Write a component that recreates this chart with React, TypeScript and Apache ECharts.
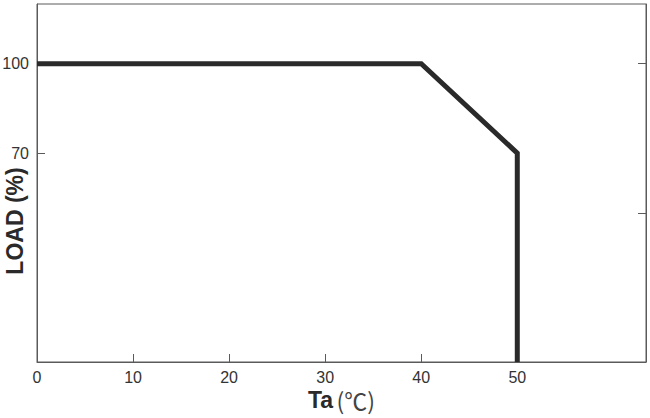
import React, { useEffect, useRef } from "react";
import * as echarts from "echarts";

// Derating curve: ambient temperature (°C) vs load (%)
const tempPoints: number[] = [0, 40, 50, 50];
const loadPoints: number[] = [100, 100, 70, 0];
const xTickValues: number[] = [0, 10, 20, 30, 40, 50];
const yLeftTicks: number[] = [70, 100];
const yRightTicks: number[] = [50, 100];
const xName = "Ta";
const xUnit = "(℃)";
const yName = "LOAD (%)";

export default function App() {
  const ref = useRef<HTMLDivElement>(null);

  useEffect(() => {
    if (!ref.current) return;
    const chart = echarts.init(ref.current, null, { renderer: "svg" });
    const axisColor = "#5a5a5a";
    const labelFont = {
      fontFamily: "Liberation Sans, Arial, sans-serif",
      fontSize: 16,
      color: "#333",
    };
    chart.setOption({
      animation: false,
      backgroundColor: "#fff",
      grid: {
        left: 37,
        right: 4,
        top: 4,
        bottom: 56,
        show: true,
        borderColor: axisColor,
        borderWidth: 1,
        containLabel: false,
        outerBoundsMode: "none",
      },
      graphic: [
        {
          type: "text",
          x: 15,
          y: 221,
          rotation: Math.PI / 2,
          style: {
            text: yName,
            fontFamily: "Liberation Sans, Arial, sans-serif",
            fontWeight: "bold",
            fontSize: 23,
            fill: "#2a2a2a",
            textAlign: "center",
            textVerticalAlign: "middle",
          },
        },
      ],
      xAxis: {
        type: "value",
        min: 0,
        max: 63.4,
        interval: 10,
        name: `{ta|${xName}} {unit|${xUnit}}`,
        nameLocation: "middle",
        nameGap: 26,
        nameMoveOverlap: false,
        nameTextStyle: {
          rich: {
            ta: {
              fontFamily: "Liberation Sans, Arial, sans-serif",
              fontWeight: "bold",
              fontSize: 23,
              color: "#2a2a2a",
            },
            unit: {
              fontFamily: "Noto Sans CJK SC, sans-serif",
              fontWeight: "normal",
              fontSize: 23,
              color: "#444",
            },
          },
        },
        axisLine: { show: true, lineStyle: { color: axisColor, width: 1 } },
        axisTick: {
          show: true,
          inside: true,
          length: 8,
          customValues: xTickValues.filter((v) => v > 0),
          lineStyle: { color: axisColor },
        },
        axisLabel: { ...labelFont, margin: 7, customValues: xTickValues },
        splitLine: { show: false },
      },
      yAxis: [
        {
          type: "value",
          min: 0,
          max: 120,
          interval: 10,
          position: "left",
          axisLine: { show: true, lineStyle: { color: axisColor, width: 1 } },
          axisTick: {
            show: true,
            inside: true,
            length: 8,
            customValues: yLeftTicks,
            lineStyle: { color: axisColor },
          },
          axisLabel: { ...labelFont, margin: 8, customValues: yLeftTicks },
          splitLine: { show: false },
        },
        {
          type: "value",
          min: 0,
          max: 120,
          interval: 10,
          position: "right",
          axisLine: { show: true, lineStyle: { color: axisColor, width: 1 } },
          axisTick: {
            show: true,
            inside: true,
            length: 8,
            customValues: yRightTicks,
            lineStyle: { color: axisColor },
          },
          axisLabel: { show: false },
          splitLine: { show: false },
        },
      ],
      series: [
        {
          type: "line",
          yAxisIndex: 0,
          data: tempPoints.map((t, i) => [t, loadPoints[i]]),
          symbol: "none",
          lineStyle: { color: "#2a2a2a", width: 5, join: "miter", cap: "butt" },
          silent: true,
        },
      ],
    });
    return () => chart.dispose();
  }, []);

  return (
    <div
      ref={ref}
      style={{ width: 650, height: 418, position: "absolute", left: 0, top: 0 }}
    />
  );
}
